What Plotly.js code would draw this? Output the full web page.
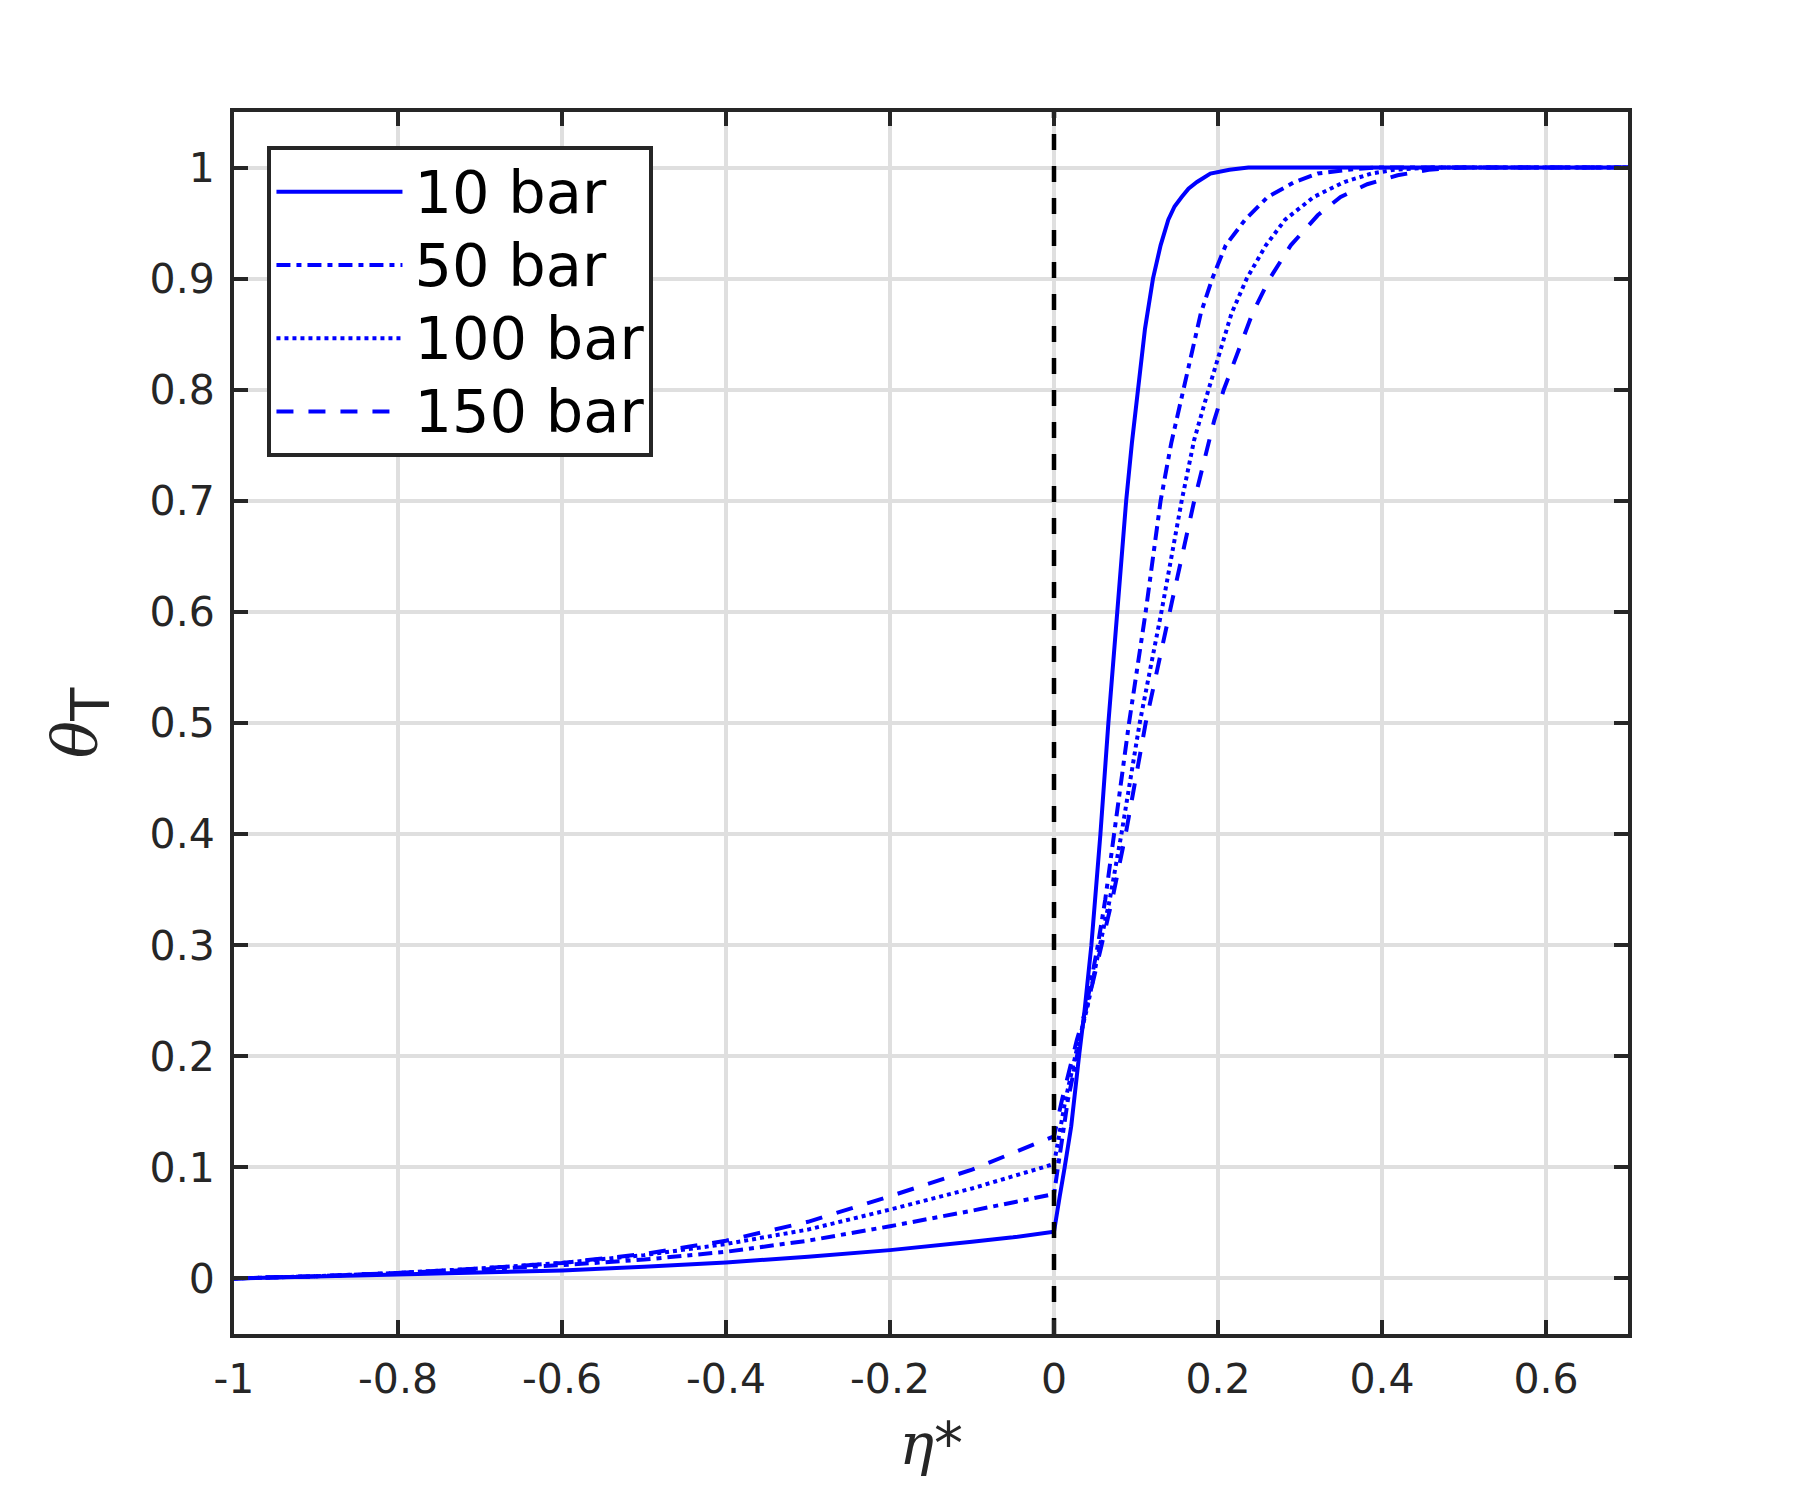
<!DOCTYPE html>
<html>
<head>
<meta charset="utf-8">
<script src="https://cdn.plot.ly/plotly-3.0.1.min.js"></script>
<style>
  body { margin: 0; background: #fff; }
  #plotArea { width: 1800px; height: 1500px; }
</style>
</head>
<body>
<div id="plotArea"></div>
<script>
// theta_T against eta* for four pressures
var eta10 = [-1, -0.9, -0.8, -0.7, -0.6, -0.5, -0.4, -0.3, -0.2, -0.1, -0.05, 0,
  0.001, 0.007, 0.013, 0.021, 0.0305, 0.0374, 0.0456, 0.0566, 0.0663, 0.0773,
  0.088, 0.095, 0.102, 0.111, 0.1207, 0.130, 0.1394, 0.147, 0.1557, 0.164, 0.1744,
  0.1907, 0.214, 0.237, 0.3, 0.7];
var theta10 = [0, 0.002, 0.0039, 0.0055, 0.0072, 0.0105, 0.0144, 0.0195, 0.0255, 0.033, 0.037, 0.042,
  0.047, 0.074, 0.1, 0.137, 0.2, 0.242, 0.3, 0.4, 0.5, 0.6,
  0.7, 0.752, 0.8, 0.855, 0.9, 0.93, 0.953, 0.965, 0.9735, 0.981, 0.987,
  0.9946, 0.998, 1.0, 1.0, 1.0];

var eta50 = [-1, -0.9, -0.8, -0.7, -0.6, -0.5, -0.4, -0.3, -0.2, -0.1, 0,
  0.008, 0.017, 0.028, 0.039, 0.0535, 0.0625, 0.0735, 0.0915, 0.1118, 0.130,
  0.143, 0.158, 0.179, 0.193, 0.2094, 0.233, 0.2606, 0.2935, 0.3216, 0.359,
  0.391, 0.7];
var theta50 = [0, 0.002, 0.005, 0.008, 0.012, 0.017, 0.024, 0.034, 0.047, 0.061, 0.076,
  0.116, 0.161, 0.2, 0.242, 0.3, 0.341, 0.4, 0.5, 0.6, 0.7,
  0.752, 0.8, 0.8687, 0.9, 0.93, 0.953, 0.9735, 0.987, 0.9946, 0.998,
  1.0, 1.0];

var eta100 = [-1, -0.9, -0.8, -0.7, -0.6, -0.5, -0.4, -0.3, -0.2, -0.1, 0,
  0.007, 0.014, 0.029, 0.041, 0.056, 0.068, 0.0822, 0.1045, 0.131, 0.1557,
  0.171, 0.1884, 0.2165, 0.235, 0.2584, 0.2818, 0.3167, 0.354, 0.387, 0.415,
  0.461, 0.7];
var theta100 = [0, 0.002, 0.005, 0.009, 0.014, 0.021, 0.031, 0.044, 0.062, 0.081, 0.103,
  0.133, 0.161, 0.21, 0.245, 0.3, 0.341, 0.4, 0.5, 0.6, 0.7,
  0.755, 0.8, 0.8687, 0.9, 0.93, 0.953, 0.9735, 0.987, 0.9946, 0.998,
  1.0, 1.0];

var eta150 = [-1, -0.9, -0.8, -0.7, -0.6, -0.5, -0.4, -0.3, -0.2, -0.1, 0,
  0.0098, 0.028, 0.042, 0.058, 0.071, 0.0874, 0.1118, 0.1444, 0.171, 0.1955,
  0.207, 0.242, 0.263, 0.2887, 0.3216, 0.3495, 0.382, 0.419, 0.457, 0.498,
  0.7];
var theta150 = [0, 0.002, 0.005, 0.009, 0.014, 0.022, 0.034, 0.051, 0.074, 0.098, 0.128,
  0.161, 0.215, 0.25, 0.3, 0.341, 0.4, 0.5, 0.611, 0.7, 0.7727,
  0.8, 0.8687, 0.9, 0.93, 0.957, 0.9735, 0.985, 0.993, 0.998, 1.0,
  1.0];

// interface marker at eta* = 0
var interfaceX = [0, 0];
var interfaceY = [-0.05, 1.05];

var seriesNames = ['10 bar', '50 bar', '100 bar', '150 bar'];
var xTickVals = [-1, -0.8, -0.6, -0.4, -0.2, 0, 0.2, 0.4, 0.6];
var xTickText = ['-1', '-0.8', '-0.6', '-0.4', '-0.2', '0', '0.2', '0.4', '0.6'];
var yTickVals = [0, 0.1, 0.2, 0.3, 0.4, 0.5, 0.6, 0.7, 0.8, 0.9, 1];
var yTickText = ['0', '0.1', '0.2', '0.3', '0.4', '0.5', '0.6', '0.7', '0.8', '0.9', '1'];

var blue = '#0000ff';
var axisCol = '#262626';

// legend label: small gap after the line sample, then bigger text
function legendLabel(s) {
  return '<span style="font-size:22px">\u00a0</span><span style="font-size:59px">' + s + '</span>';
}

var traces = [
  {x: eta10, y: theta10, name: legendLabel(seriesNames[0]), mode: 'lines', type: 'scatter',
   line: {color: blue, width: 4}},
  {x: eta50, y: theta50, name: legendLabel(seriesNames[1]), mode: 'lines', type: 'scatter',
   line: {color: blue, width: 4, dash: '14px,6px,5px,6px'}},
  {x: eta100, y: theta100, name: legendLabel(seriesNames[2]), mode: 'lines', type: 'scatter',
   line: {color: blue, width: 4, dash: '4px,4px'}},
  {x: eta150, y: theta150, name: legendLabel(seriesNames[3]), mode: 'lines', type: 'scatter',
   line: {color: blue, width: 4, dash: '17px,15px'}},
  {x: interfaceX, y: interfaceY, mode: 'lines', type: 'scatter', showlegend: false,
   hoverinfo: 'skip', line: {color: '#000000', width: 4.5, dash: '16px,16px'}}
];

var axisCommon = {
  showline: true, mirror: 'ticks', linecolor: axisCol, linewidth: 4,
  ticks: 'inside', ticklen: 14, tickwidth: 4, tickcolor: axisCol,
  showgrid: true, gridcolor: '#dfdfdf', gridwidth: 4, zeroline: false,
  tickfont: {family: 'DejaVu Sans', size: 41, color: axisCol}
};

var layout = {
  width: 1800, height: 1500,
  margin: {l: 234, r: 172, t: 112, b: 166},
  paper_bgcolor: '#ffffff', plot_bgcolor: '#ffffff',
  font: {family: 'DejaVu Sans', color: axisCol},
  showlegend: true,
  legend: {
    x: 0.024, y: 0.972, xanchor: 'left', yanchor: 'top',
    bgcolor: '#ffffff', bordercolor: axisCol, borderwidth: 4,
    font: {family: 'DejaVu Sans', size: 54, color: '#000000'},
    itemwidth: 126, tracegroupgap: 0
  },
  xaxis: Object.assign({}, axisCommon, {
    range: [-1, 0.7], tickmode: 'array', tickvals: xTickVals, ticktext: xTickText,
    ticklabelstandoff: 6,
    title: {text: '<span style="font-family:DejaVu Serif"><i>η</i></span>*',
            font: {family: 'DejaVu Sans', size: 58, color: axisCol}, standoff: 22}
  }),
  yaxis: Object.assign({}, axisCommon, {
    range: [-0.05, 1.05], tickmode: 'array', tickvals: yTickVals, ticktext: yTickText,
    ticklabelstandoff: 7,
    title: {text: '<span style="font-family:DejaVu Serif"><i>θ</i></span><sub><span style="font-size:54px">T</span></sub>',
            font: {family: 'DejaVu Sans', size: 62, color: axisCol}, standoff: 34}
  })
};

Plotly.newPlot('plotArea', traces, layout, {displayModeBar: false});
</script>
</body>
</html>
